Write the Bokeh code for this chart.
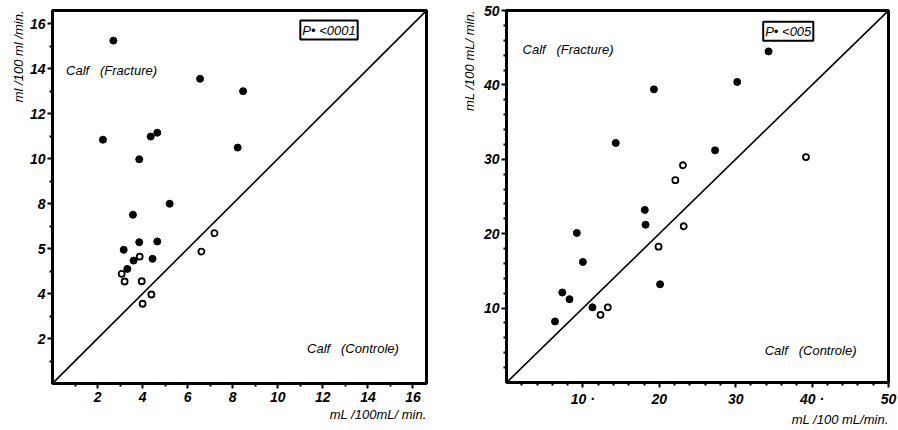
from bokeh.plotting import figure
from bokeh.models import Range1d, FixedTicker, Title, Label
from bokeh.layouts import row
from bokeh.embed import file_html
from bokeh.resources import INLINE

# ---- data: left panel (Calf, 0-16.6) ----
l_fill_x = [2.70, 2.24, 6.55, 8.46, 4.36, 4.65, 3.85, 8.22, 5.20, 3.57, 3.85, 4.65, 3.16, 3.60, 4.44, 3.32]
l_fill_y = [15.26, 10.85, 13.56, 13.01, 10.99, 11.16, 9.98, 10.50, 8.00, 7.51, 6.29, 6.32, 5.95, 5.47, 5.55, 5.10]
l_open_x = [3.87, 3.07, 3.20, 3.96, 4.39, 4.00, 6.61, 7.19]
l_open_y = [5.65, 4.88, 4.54, 4.55, 3.96, 3.55, 5.87, 6.69]
l_ticks = [2, 4, 6, 8, 10, 12, 14, 16]
l_minor = [1, 3, 5, 7, 9, 11, 13, 15]
l_xlabels = ["2", "4", "6", "8", "10", "12", "14", "16"]
l_ylabels = ["2", "4", "5", "8", "10", "12", "14", "16"]
l_diag = [0, 16.6]

# ---- data: right panel (0-50) ----
r_fill_x = [34.3, 30.2, 19.3, 14.3, 27.3, 18.1, 18.2, 9.2, 10.0, 20.1, 7.3, 8.25, 6.35, 11.25]
r_fill_y = [44.5, 40.4, 39.4, 32.2, 31.2, 23.2, 21.2, 20.1, 16.2, 13.2, 12.1, 11.2, 8.2, 10.1]
r_open_x = [39.2, 23.1, 22.1, 23.2, 19.9, 12.3, 13.26]
r_open_y = [30.3, 29.2, 27.2, 21.0, 18.25, 9.1, 10.1]
r_ticks = [10, 20, 30, 40, 50]
r_minor = [2, 4, 6, 8, 12, 14, 16, 18, 22, 24, 26, 28, 32, 34, 36, 38, 42, 44, 46, 48]
r_xlabels = ["10 ·", "20", "30", "40 ·", "50"]
r_ylabels = ["10", "20", "30", "40", "50"]
r_diag = [0, 50]

FONT = "Liberation Sans"
NB = "\u00a0"


def style_axes(p, ticks, minor, xlabels, ylabels):
    for ax, labels in ((p.xaxis[0], xlabels), (p.yaxis[0], ylabels)):
        ax.ticker = FixedTicker(ticks=ticks, minor_ticks=minor)
        ax.major_label_overrides = {t: s for t, s in zip(ticks, labels)}
        ax.axis_line_width = 3
        ax.axis_line_color = "black"
        ax.major_tick_in = 0
        ax.major_tick_out = 5
        ax.minor_tick_in = 0
        ax.minor_tick_out = 3
        ax.major_tick_line_width = 2
        ax.minor_tick_line_width = 2
        ax.major_label_text_font = FONT
        ax.major_label_text_font_style = "bold italic"
        ax.major_label_text_font_size = "14px"
        ax.major_label_text_color = "black"
    p.xaxis[0].major_label_standoff = 3
    p.yaxis[0].major_label_standoff = 2
    p.xgrid.visible = False
    p.ygrid.visible = False
    p.outline_line_color = "black"
    p.outline_line_width = 3
    p.outline_line_alpha = 1


def make(fw, fh, top, left, right, bottom, rng, fx, fy, ox, oy, diag,
         ticks, minor, xl, yl, ytitle, xtitle, texts, pbox, ystand):
    p = figure(frame_width=fw, frame_height=fh, output_backend="svg",
               toolbar_location=None, x_range=Range1d(0, rng), y_range=Range1d(0, rng),
               min_border_top=top, min_border_left=left, min_border_right=right,
               min_border_bottom=bottom, background_fill_color="white",
               border_fill_color="white")
    style_axes(p, ticks, minor, xl, yl)
    p.line(diag, diag, line_color="black", line_width=1.6)
    p.scatter(fx, fy, size=7, color="black")
    p.scatter(ox, oy, size=6, fill_color="white", line_color="black", line_width=1.8)
    for (tx, ty, s) in texts:
        p.add_layout(Label(x=tx, y=ty, text=s.replace(" ", NB), text_font=FONT,
                           text_font_style="italic", text_color="black",
                           text_font_size="13px", text_baseline="middle"))
    px, py, ps = pbox
    p.add_layout(Label(x=px, y=py, text=ps, text_font=FONT, text_font_style="italic",
                       text_color="black", text_font_size="13px", text_baseline="middle",
                       border_line_color="black", border_line_width=2,
                       background_fill_color="white", padding=2))
    p.add_layout(Title(text=ytitle, align="right", text_font=FONT, text_font_style="italic",
                       text_font_size="13px", text_color="black", standoff=ystand), "left")
    p.add_layout(Title(text=xtitle, align="right", text_font=FONT, text_font_style="italic",
                       text_font_size="13px", text_color="black", standoff=0, offset=0), "below")
    return p


p1 = make(374, 373, 10, 52, 22, 39, 16.6, l_fill_x, l_fill_y, l_open_x, l_open_y, l_diag,
          l_ticks, l_minor, l_xlabels, l_ylabels,
          "ml /100 ml /min.", "mL /100mL/ min.",
          [(0.6, 13.95, "Calf   (Fracture)"), (11.3, 1.56, "Calf   (Controle)")],
          (11.0, 15.73, "P\u2022 <0001"), 2)

p2 = make(382, 372, 10, 58, 10, 39, 50, r_fill_x, r_fill_y, r_open_x, r_open_y, r_diag,
          r_ticks, r_minor, r_xlabels, r_ylabels,
          "mL /100 mL/ min.", "mL /100 mL/min.",
          [(2.1, 44.8, "Calf   (Fracture)"), (33.8, 4.3, "Calf   (Controle)")],
          (33.6, 47.2, "P\u2022 <005"), 8)

layout = row(p1, p2)
open("out.html", "w").write(file_html(layout, INLINE))
